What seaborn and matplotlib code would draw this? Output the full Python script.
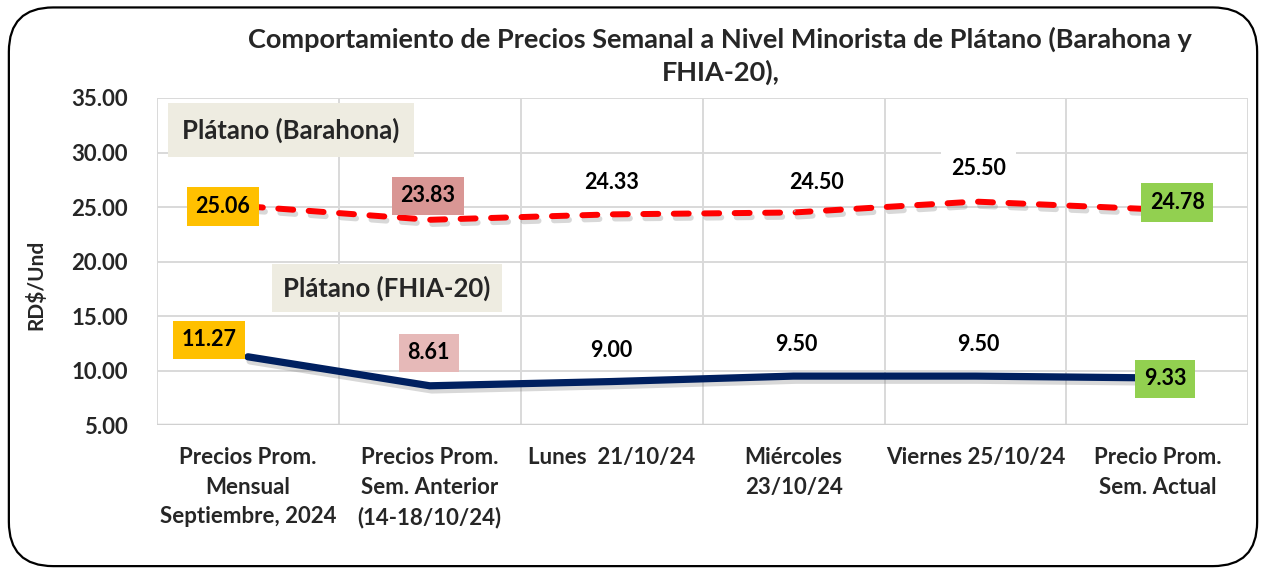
import numpy as np
import pandas as pd
import matplotlib
matplotlib.use("Agg")
import matplotlib.pyplot as plt
import matplotlib.patheffects as pe
from matplotlib.patches import FancyBboxPatch
import seaborn as sns

categories = ["Precios Prom.\nMensual\nSeptiembre, 2024",
              "Precios Prom.\nSem. Anterior\n(14-18/10/24)",
              "Lunes  21/10/24",
              "Miércoles\n23/10/24",
              "Viernes 25/10/24",
              "Precio Prom.\nSem. Actual"]
barahona = [25.06, 23.83, 24.33, 24.50, 25.50, 24.78]
fhia = [11.27, 8.61, 9.00, 9.50, 9.50, 9.33]
series_names = ["Plátano (Barahona)", "Plátano (FHIA-20)"]
title = "Comportamiento de Precios Semanal a Nivel Minorista de Plátano (Barahona y\nFHIA-20),"
yticks = [5, 10, 15, 20, 25, 30, 35]

sns.set_theme(style="white")
plt.rcParams['font.family'] = ['Lato', 'DejaVu Sans']
plt.rcParams['font.weight'] = 'bold'

fig = plt.figure(figsize=(12.66, 5.73), dpi=100)
ax = fig.add_axes([0.124, 0.258, 0.862, 0.571])

pos = np.arange(len(categories))
df_b = pd.DataFrame({"x": pos, "y": barahona})
df_f = pd.DataFrame({"x": pos, "y": fhia})

shadow = [pe.SimpleLineShadow(offset=(1.5, -3), shadow_color='#7f7f7f', alpha=0.3), pe.Normal()]
sns.lineplot(data=df_b, x="x", y="y", ax=ax, color="#FF0000", linewidth=4.3,
             path_effects=shadow, zorder=4)
ax.lines[-1].set_dashes([2.5, 2.6])
ax.lines[-1].set_dash_capstyle('round')
sns.lineplot(data=df_f, x="x", y="y", ax=ax, color="#002060", linewidth=5.2,
             path_effects=shadow, zorder=4)

ax.set_xlim(-0.5, 5.5)
ax.set_ylim(5, 35)
ax.set_yticks(yticks)
ax.set_yticklabels([f"{v:.2f}" for v in yticks], fontsize=16, fontweight='bold')
ax.set_xticks(pos)
ax.set_xticklabels(categories, fontsize=16, fontweight='bold', linespacing=1.5)
ax.tick_params(axis='y', length=0, pad=21)
ax.tick_params(axis='x', length=0, pad=16)
ax.set_xlabel("")
ax.set_ylabel("RD$/Und", fontsize=15, fontweight='bold')
ax.yaxis.set_label_coords(-0.101, 0.43)
for v in yticks:
    ax.axhline(v, color="#D9D9D9", lw=1.4, zorder=1)
for b in np.arange(-0.5, 6.0, 1.0):
    ax.axvline(b, color="#D9D9D9", lw=1.4, zorder=1)
for s in ax.spines.values():
    s.set_visible(False)
ax.axhline(5, color="#D0D0D0", lw=2.5, zorder=1)

fs = 15.5
def boxed(x, y, txt, fc, dx=0, dy=0, pad=0.4):
    ax.annotate(txt, (x, y), xytext=(dx, dy), textcoords='offset pixels',
                ha='center', va='center', fontsize=fs, fontweight='bold', color='black',
                bbox=dict(boxstyle=f'square,pad={pad}', fc=fc, ec='none'), zorder=6)

def plain(x, y, txt, dx=0, dy=0, **kw):
    ax.annotate(txt, (x, y), xytext=(dx, dy), textcoords='offset pixels',
                ha='center', va='center', fontsize=fs, fontweight='bold', color='black',
                zorder=6, **kw)

# Barahona labels
boxed(pos[0], barahona[0], f"{barahona[0]:.2f}", "#FFC000", dx=-25, dy=0)
boxed(pos[1], barahona[1], f"{barahona[1]:.2f}", "#D99694", dx=-2, dy=24)
plain(pos[2], barahona[2], f"{barahona[2]:.2f}", dx=0, dy=32)
plain(pos[3], barahona[3], f"{barahona[3]:.2f}", dx=23, dy=30,
      arrowprops=dict(arrowstyle='-', color='#A6A6A6', lw=1, shrinkA=13, shrinkB=1))
plain(pos[4], barahona[4], f"{barahona[4]:.2f}", dx=3, dy=33,
      bbox=dict(boxstyle='square,pad=0.45', fc='white', ec='none'))
boxed(pos[5], barahona[5], f"{barahona[5]:.2f}", "#92D050", dx=20, dy=7)

# FHIA labels
boxed(pos[0], fhia[0], f"{fhia[0]:.2f}", "#FFC000", dx=-39, dy=17)
boxed(pos[1], fhia[1], f"{fhia[1]:.2f}", "#E6B9B8", dx=-1, dy=33)
plain(pos[2], fhia[2], f"{fhia[2]:.2f}", dx=0, dy=31)
plain(pos[3], fhia[3], f"{fhia[3]:.2f}", dx=3, dy=32)
plain(pos[4], fhia[4], f"{fhia[4]:.2f}", dx=3, dy=32)
boxed(pos[5], fhia[5], f"{fhia[5]:.2f}", "#92D050", dx=8, dy=-1)

# series name boxes
ax.text(0.237, 32.06, series_names[0], ha='center', va='center', fontsize=18.5, fontweight='bold',
        bbox=dict(boxstyle='square,pad=0.55', fc='#EEECE1', ec='none'), zorder=6)
ax.text(0.765, 17.57, series_names[1], ha='center', va='center', fontsize=18.5, fontweight='bold',
        bbox=dict(boxstyle='square,pad=0.45', fc='#EEECE1', ec='none'), zorder=6)

fig.text(0.569, 0.902, title, ha='center', va='center', fontsize=19.5, fontweight='bold',
         linespacing=1.35)

border = FancyBboxPatch((0.007, 0.012), 0.986, 0.975, boxstyle='round,pad=0,rounding_size=0.035',
                        transform=fig.transFigure, fc='none', ec='black', lw=1.6, zorder=10,
                        mutation_aspect=1266/573)
fig.patches.append(border)

fig.savefig("out.png", dpi=100)
